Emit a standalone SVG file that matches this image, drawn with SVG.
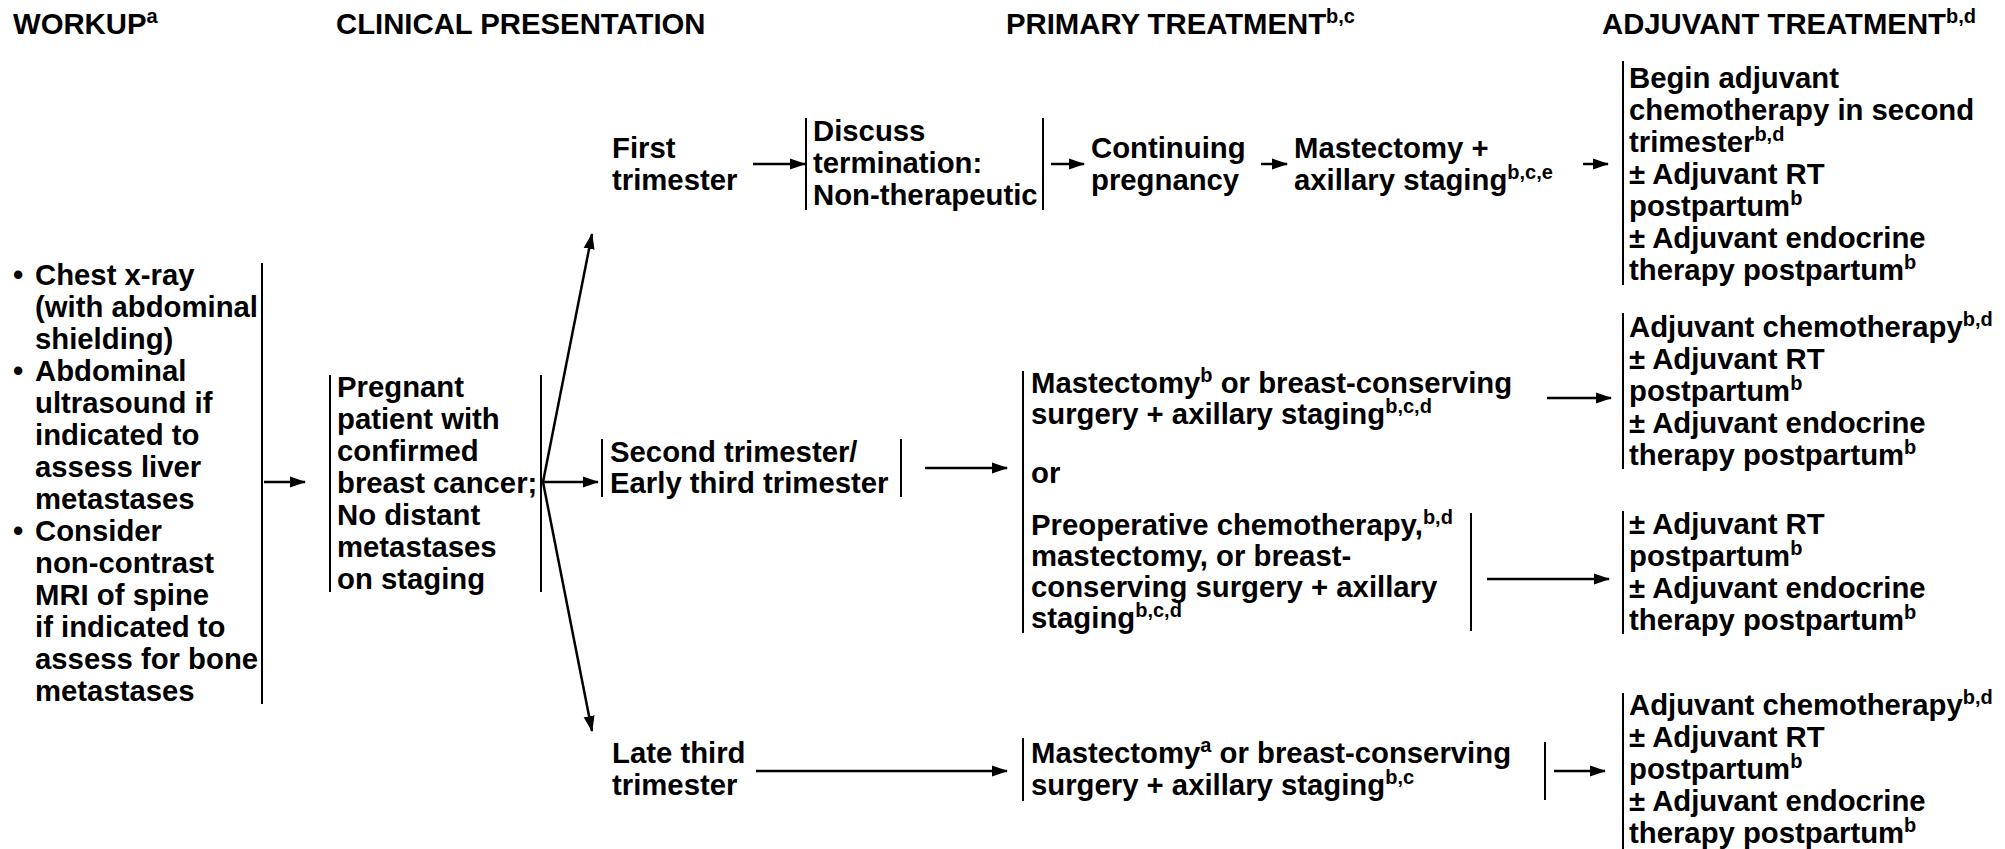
<svg xmlns="http://www.w3.org/2000/svg" width="2005" height="849" viewBox="0 0 2005 849">
<style>
.t{font-family:"Liberation Sans",Arial,Helvetica,sans-serif;font-weight:bold;font-size:29.3px;fill:#000}
.s{font-size:20px}
.br{stroke:#000;stroke-width:2;fill:none}
.c{stroke:#000;stroke-width:2.5;fill:none;marker-end:url(#ah)}
</style>
<defs>
<marker id="ah" markerUnits="userSpaceOnUse" markerWidth="16" markerHeight="12" refX="15" refY="6" orient="auto">
<path d="M0,0.5 L16,6 L0,11.5 z" fill="#000"/>
</marker>
</defs>
<rect width="2005" height="849" fill="#fff"/>

<g id="headers">
<text class="t" x="13" y="34">WORKUP<tspan class="s" dy="-11">a</tspan></text>
<text class="t" x="336" y="34">CLINICAL PRESENTATION</text>
<text class="t" x="1006" y="34">PRIMARY TREATMENT<tspan class="s" dy="-11">b,c</tspan></text>
<text class="t" x="1602" y="34">ADJUVANT TREATMENT<tspan class="s" dy="-11">b,d</tspan></text>
</g>

<g id="workup">
<line class="br" x1="262" y1="263" x2="262" y2="704"/>
<text class="t">
<tspan x="13" y="285">•</tspan><tspan x="35" y="285">Chest x-ray</tspan>
<tspan x="35" y="317">(with abdominal</tspan>
<tspan x="35" y="349">shielding)</tspan>
<tspan x="13" y="381">•</tspan><tspan x="35" y="381">Abdominal</tspan>
<tspan x="35" y="413">ultrasound if</tspan>
<tspan x="35" y="445">indicated to</tspan>
<tspan x="35" y="477">assess liver</tspan>
<tspan x="35" y="509">metastases</tspan>
<tspan x="13" y="541">•</tspan><tspan x="35" y="541">Consider</tspan>
<tspan x="35" y="573">non-contrast</tspan>
<tspan x="35" y="605">MRI of spine</tspan>
<tspan x="35" y="637">if indicated to</tspan>
<tspan x="35" y="669">assess for bone</tspan>
<tspan x="35" y="701">metastases</tspan>
</text>
</g>

<g id="presentation">
<line class="br" x1="330" y1="375" x2="330" y2="592"/>
<line class="br" x1="541" y1="375" x2="541" y2="592"/>
<text class="t">
<tspan x="337" y="397">Pregnant</tspan>
<tspan x="337" y="429">patient with</tspan>
<tspan x="337" y="461">confirmed</tspan>
<tspan x="337" y="493">breast cancer;</tspan>
<tspan x="337" y="525">No distant</tspan>
<tspan x="337" y="557">metastases</tspan>
<tspan x="337" y="589">on staging</tspan>
</text>
</g>

<g id="first-trimester">
<text class="t"><tspan x="612" y="158">First</tspan><tspan x="612" y="190">trimester</tspan></text>
</g>

<g id="discuss-termination">
<line class="br" x1="806" y1="118" x2="806" y2="210"/>
<line class="br" x1="1043" y1="118" x2="1043" y2="210"/>
<text class="t"><tspan x="813" y="141">Discuss</tspan><tspan x="813" y="173">termination:</tspan><tspan x="813" y="205">Non-therapeutic</tspan></text>
</g>

<g id="continuing-pregnancy">
<text class="t"><tspan x="1091" y="158">Continuing</tspan><tspan x="1091" y="190">pregnancy</tspan></text>
</g>

<g id="mastectomy-first">
<text class="t"><tspan x="1294" y="158">Mastectomy +</tspan><tspan x="1294" y="190">axillary staging</tspan><tspan class="s" dy="-11">b,c,e</tspan></text>
</g>

<g id="adjuvant-first">
<line class="br" x1="1623" y1="61" x2="1623" y2="285"/>
<text class="t">
<tspan x="1629" y="88">Begin adjuvant</tspan>
<tspan x="1629" y="120">chemotherapy in second</tspan>
<tspan x="1629" y="152">trimester</tspan><tspan class="s" dy="-11">b,d</tspan>
<tspan x="1629" y="184">± Adjuvant RT</tspan>
<tspan x="1629" y="216">postpartum</tspan><tspan class="s" dy="-11">b</tspan>
<tspan x="1629" y="248">± Adjuvant endocrine</tspan>
<tspan x="1629" y="280">therapy postpartum</tspan><tspan class="s" dy="-11">b</tspan>
</text>
</g>

<g id="second-trimester">
<line class="br" x1="602" y1="439" x2="602" y2="497"/>
<line class="br" x1="901" y1="439" x2="901" y2="497"/>
<text class="t"><tspan x="610" y="462">Second trimester/</tspan><tspan x="610" y="493">Early third trimester</tspan></text>
</g>

<g id="primary-second">
<line class="br" x1="1023" y1="371" x2="1023" y2="633"/>
<line class="br" x1="1471" y1="513" x2="1471" y2="631"/>
<text class="t">
<tspan x="1031" y="393">Mastectomy</tspan><tspan class="s" dy="-11">b</tspan><tspan dy="11"> or breast-conserving</tspan>
<tspan x="1031" y="424">surgery + axillary staging</tspan><tspan class="s" dy="-11">b,c,d</tspan>
<tspan x="1031" y="483">or</tspan>
<tspan x="1031" y="535">Preoperative chemotherapy,</tspan><tspan class="s" dy="-11">b,d</tspan>
<tspan x="1031" y="566">mastectomy, or breast-</tspan>
<tspan x="1031" y="597">conserving surgery + axillary</tspan>
<tspan x="1031" y="628">staging</tspan><tspan class="s" dy="-11">b,c,d</tspan>
</text>
</g>

<g id="adjuvant-second-a">
<line class="br" x1="1623" y1="313" x2="1623" y2="469"/>
<text class="t">
<tspan x="1629" y="337">Adjuvant chemotherapy</tspan><tspan class="s" dy="-11">b,d</tspan>
<tspan x="1629" y="369">± Adjuvant RT</tspan>
<tspan x="1629" y="401">postpartum</tspan><tspan class="s" dy="-11">b</tspan>
<tspan x="1629" y="433">± Adjuvant endocrine</tspan>
<tspan x="1629" y="465">therapy postpartum</tspan><tspan class="s" dy="-11">b</tspan>
</text>
</g>

<g id="adjuvant-second-b">
<line class="br" x1="1623" y1="511" x2="1623" y2="634"/>
<text class="t">
<tspan x="1629" y="534">± Adjuvant RT</tspan>
<tspan x="1629" y="566">postpartum</tspan><tspan class="s" dy="-11">b</tspan>
<tspan x="1629" y="598">± Adjuvant endocrine</tspan>
<tspan x="1629" y="630">therapy postpartum</tspan><tspan class="s" dy="-11">b</tspan>
</text>
</g>

<g id="late-third-trimester">
<text class="t"><tspan x="612" y="763">Late third</tspan><tspan x="612" y="795">trimester</tspan></text>
</g>

<g id="primary-late">
<line class="br" x1="1023" y1="738" x2="1023" y2="801"/>
<line class="br" x1="1545" y1="742" x2="1545" y2="800"/>
<text class="t">
<tspan x="1031" y="763">Mastectomy</tspan><tspan class="s" dy="-11">a</tspan><tspan dy="11"> or breast-conserving</tspan>
<tspan x="1031" y="795">surgery + axillary staging</tspan><tspan class="s" dy="-11">b,c</tspan>
</text>
</g>

<g id="adjuvant-late">
<line class="br" x1="1623" y1="693" x2="1623" y2="849"/>
<text class="t">
<tspan x="1629" y="715">Adjuvant chemotherapy</tspan><tspan class="s" dy="-11">b,d</tspan>
<tspan x="1629" y="747">± Adjuvant RT</tspan>
<tspan x="1629" y="779">postpartum</tspan><tspan class="s" dy="-11">b</tspan>
<tspan x="1629" y="811">± Adjuvant endocrine</tspan>
<tspan x="1629" y="843">therapy postpartum</tspan><tspan class="s" dy="-11">b</tspan>
</text>
</g>

<g id="connectors">
<line class="c" x1="264" y1="482" x2="305" y2="482"/>
<line class="c" x1="543" y1="482" x2="592" y2="234"/>
<line class="c" x1="543" y1="482" x2="598" y2="482"/>
<line class="c" x1="543" y1="482" x2="592" y2="731"/>
<line class="c" x1="753" y1="164" x2="805" y2="164"/>
<line class="c" x1="1051" y1="164" x2="1084" y2="164"/>
<line class="c" x1="1261" y1="164" x2="1287" y2="164"/>
<line class="c" x1="1583" y1="164" x2="1608" y2="164"/>
<line class="c" x1="925" y1="468" x2="1007" y2="468"/>
<line class="c" x1="1547" y1="398" x2="1611" y2="398"/>
<line class="c" x1="1487" y1="579" x2="1609" y2="579"/>
<line class="c" x1="756" y1="771" x2="1007" y2="771"/>
<line class="c" x1="1554" y1="771" x2="1605" y2="771"/>
</g>
</svg>
